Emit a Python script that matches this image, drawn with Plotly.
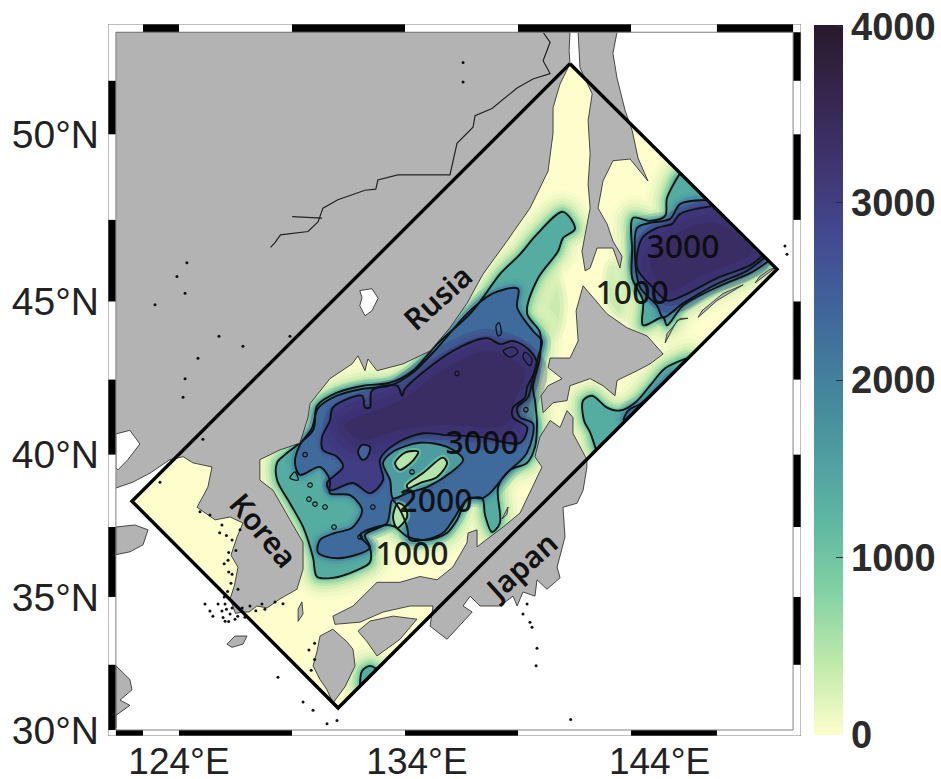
import math
import plotly.graph_objects as go

# ---------- data (lon, lat) ----------
DOMAIN = [(141.30,51.97),(150.46,46.0),(131.04,30.87),(121.92,38.40)]
LON0, LON1, LAT0, LAT1 = 120.86, 151.52, 29.8, 53.04
IN_W, IN_E, IN_S, IN_N = 121.21, 151.17, 30.03, 52.82

CONTINENT = [(141.30,52.82),(141.26,52.33),(141.30,51.97),(140.86,51.41),(140.55,50.75),(140.55,50.03),(140.33,48.94),
(139.53,47.85),(138.51,46.86),(137.45,45.85),(136.74,44.94),(135.99,44.17),(135.11,43.43),(133.91,43.01),(132.76,42.79),
(132.36,43.17),(132.23,42.79),(131.92,43.27),(131.66,43.01),(130.68,42.53),(129.80,41.71),(129.71,41.25),(129.35,40.39),
(128.47,40.16),(127.58,39.83),(127.58,39.13),(128.16,38.78),(128.91,37.74),(129.49,36.95),(129.49,36.0),(129.22,35.28),
(128.47,34.93),(127.9,34.6),(127.45,34.67),(127.1,34.45),(126.83,34.45),(126.5,34.4),(126.26,34.93),(126.45,35.4),(126.61,36.07),(126.3,36.5),(126.57,37.15),(126.83,37.64),(126.26,37.85),
(125.6,37.75),(124.80,38.19),(125.28,38.89),(125.46,39.58),(124.62,39.72),(124.18,39.93),(123.60,39.83),(122.72,39.37),(121.96,39.06),
(121.0,38.8),(121.0,52.82)]
BOHAI = [(121.21,40.70),(121.83,40.82),(122.27,40.36),(121.74,39.83),(121.30,39.48),(121.21,39.55)]
JIANGSU = [(121.21,37.5),(122.05,37.57),(122.63,37.4),(122.41,36.87),(121.83,36.62),(121.21,36.52)]
SHANGHAI = [(121.21,32.46),(121.83,31.95),(121.92,31.56),(121.39,31.17),(121.83,30.97),(121.21,30.59),(121.21,30.1)]
KHANKA = [(132.0,45.34),(132.54,45.40),(132.81,45.1),(132.54,44.71),(132.23,44.55),(132.0,44.87),(132.1,45.12)]
SAKHALIN = [(141.66,52.82),(143.38,52.82),(143.2,52.25),(143.38,51.58),(143.74,50.67),(144.05,50.11),(144.31,49.32),(144.75,48.65),
(143.96,49.29),(143.2,49.24),(142.76,48.65),(142.54,47.85),(142.94,47.38),(143.2,46.86),(143.6,46.4),(143.51,46.04),(143.2,46.65),
(142.5,46.65),(142.19,46.04),(141.97,45.95),(141.83,46.55),(142.19,47.85),(142.1,48.56),(142.19,49.44),(142.1,50.39),(142.28,51.14),(141.74,51.86)]
HOKKAIDO = [(141.88,45.49),(142.32,45.12),(142.94,44.61),(143.82,44.17),(144.71,43.91),(145.42,43.33),(144.84,43.01),(144.27,42.79),
(143.38,42.47),(143.29,41.97),(142.76,42.3),(142.19,42.53),(141.3,42.3),(141.17,41.81),(140.55,41.74),(140.11,41.41),(140.02,41.97),
(140.33,42.3),(140.95,42.53),(140.33,42.89),(140.42,43.2),(141.3,43.2),(141.66,43.75),(141.57,44.71)]
HONSHU = [(140.42,41.15),(140.86,40.92),(141.17,41.48),(141.43,41.25),(141.43,40.72),(142.05,39.83),(142.05,39.58),(141.88,38.78),
(141.61,38.33),(140.99,38.19),(141.08,37.15),(140.73,36.08),(140.86,35.69),(140.28,35.28),(139.84,35.62),(139.75,35.03),(139.22,35.18),
(138.96,34.67),(138.78,35.03),(138.2,34.67),(137.32,34.67),(136.88,35.03),(136.57,34.67),(136.97,34.45),(135.86,33.45),(135.11,33.93),
(135.24,34.67),(134.22,34.67),(133.03,34.45),(132.01,34.08),(130.9,34.0),(130.81,34.3),(131.7,34.67),(132.76,35.53),(133.78,35.53),
(134.66,35.74),(135.42,35.62),(136.12,36.08),(136.74,36.94),(136.79,37.29),(137.19,37.4),(137.19,36.8),(138.34,37.5),(139.09,37.99),
(140.06,39.58),(139.75,39.93),(139.97,40.6)]
SHIKOKU = [(131.92,33.75),(132.45,34.12),(133.47,34.3),(134.53,34.19),(133.78,33.45),(133.2,33.08),(132.76,32.83),(132.32,33.36)]
KYUSHU = [(130.24,33.57),(130.81,33.82),(131.43,33.36),(131.7,33.08),(131.79,32.46),(131.35,31.68),(130.81,31.05),(130.55,31.56),
(130.24,31.95),(129.93,32.46),(130.11,33.01)]
JEJU = [(126.12,33.27),(126.48,33.57),(127.01,33.57),(126.83,33.27),(126.35,33.15)]
TSUSHIMA = [(129.27,34.56),(129.44,34.82),(129.49,34.38),(129.27,34.11)]
KURIL_A = [(148.96,45.52),(147.81,45.03),(146.97,44.5),(147.14,44.71),(148.07,45.25)]
KURIL_B = [(146.52,44.47),(146.04,44.41),(145.51,43.69),(145.59,43.98),(146.17,44.47)]
KURIL_C = [(150.37,46.04),(149.49,45.58),(149.71,45.79),(150.15,46.0)]
SADO = [(138.29,37.78),(138.56,38.2),(138.51,37.94)]

AMUR_A = [(128.05,46.67),(128.23,46.8),(128.49,47.05),(129.71,47.15),(130.15,47.44),(130.37,47.85),(131.03,48.1),
(132.23,48.38),(132.71,48.41),(132.8,48.68),(133.68,48.83),(135.99,48.83),(136.3,49.74),(136.66,49.98),(137.01,50.2),(137.1,50.53),
(137.85,50.73),(138.96,51.3),(139.66,51.55),(140.42,51.7),(140.11,52.05),(140.42,52.55),(140.11,52.82)]
AMUR_B = [(129.01,47.6),(130.33,47.55)]

C1000_MAIN = [(140.99,47.74),(141.52,47.23),(140.99,46.95),(140.77,46.55),(139.89,45.73),(139.40,44.63),(139.97,44.03),(139.97,43.23),
(139.66,42.24),(139.75,41.81),(139.84,41.05),(139.75,40.26),(139.4,39.72),(138.65,39.48),(138.12,38.89),(138.2,37.64),(137.85,37.32),
(137.54,37.92),(137.41,38.5),(136.74,38.44),(136.30,37.74),(135.86,37.29),(134.97,37.04),(134.13,37.15),(133.56,37.5),(133.2,37.57),
(132.01,37.22),(132.45,36.76),(132.45,36.25),(131.88,35.97),(130.81,35.69),(130.11,35.73),(129.93,36.43),(129.49,37.5),(128.91,38.33),
(128.34,39.13),(128.34,39.72),(128.69,40.0),(129.93,40.82),(130.11,41.64),(130.99,42.07),(132.14,42.3),(133.34,42.4),(134.35,42.79),
(135.42,43.65),(136.88,44.61),(137.45,45.12),(138.2,45.85),(139.09,46.46),(139.84,47.07)]
C2000_MAIN = [(129.13,39.72),(129.35,39.31),(130.24,39.58),(130.68,39.13),(130.68,38.68),(131.57,38.61),(132.10,38.09),(131.66,37.47),
(130.90,37.29),(130.24,37.04),(130.15,36.6),(130.99,36.39),(132.45,36.76),(132.23,37.22),(133.2,37.64),(133.43,38.44),(133.78,38.09),
(134.09,37.5),(134.22,37.04),(134.8,37.04),(135.68,37.29),(136.12,37.74),(136.79,38.5),(137.41,38.5),(137.76,38.68),(138.51,39.37),
(139.4,40.07),(139.66,41.05),(139.09,41.25),(138.96,41.58),(139.44,41.91),(139.66,42.57),(139.89,43.23),(140.06,43.75),(139.66,44.07),
(138.96,44.81),(139.0,45.4),(137.89,45.25),(136.74,44.61),(135.42,43.52),(134.35,42.73),(133.34,42.3),(132.14,42.2),(130.99,41.97),
(130.15,41.55),(129.88,40.89),(129.35,40.33)]
C3000_MAIN = [(130.33,40.59),(130.68,41.15),(130.81,41.58),(132.10,41.97),(132.23,41.58),(132.45,41.58),(132.54,42.14),(133.65,42.3),
(133.87,41.97),(134.0,42.2),(136.12,43.43),(137.63,43.84),(138.2,43.65),(138.78,43.75),(139.44,43.5),(139.84,43.01),(139.4,42.24),
(139.31,41.91),(138.78,41.58),(138.78,41.25),(139.4,40.92),(139.09,40.4),(137.32,40.6),(135.86,40.66),(134.8,40.72),(133.65,40.4),
(132.89,39.83),(133.03,39.13),(132.45,38.68),(131.7,39.03),(130.68,38.78),(130.55,39.03),(131.26,39.58),(130.99,39.93),(130.37,40.16)]
DEEP_MAIN = [(131.35,41.0),(133.78,41.81),(135.99,42.95),(137.76,43.43),(139.31,42.8),(138.87,41.81),(138.43,41.0),(135.55,41.0),(133.78,40.82),(132.01,40.49)]
YAMATO_RISE = [(133.34,39.13),(133.03,39.72),(133.47,40.1),(134.66,40.4),(135.86,40.26),(136.57,39.83),(135.99,39.37),(134.97,38.89),(134.09,38.68),(133.47,38.5)]
RISE_A = [(133.65,39.55),(133.56,39.72),(134.0,40.07),(134.58,40.1),(134.31,39.76),(133.78,39.48)]
RISE_B = [(134.09,38.96),(134.8,39.37),(135.68,39.9),(135.86,39.72),(135.42,39.24),(134.66,39.03),(134.13,38.85)]
RISE_C = [(133.47,37.85),(133.69,38.33),(134.0,38.19),(134.09,37.85),(133.65,37.47)]
POCKET = [(132.1,40.33),(132.45,40.26),(132.32,39.9),(132.1,39.83),(131.92,40.1)]
C1000_KURIL = [(146.17,48.88),(145.59,48.15),(145.51,47.62),(144.84,47.47),(144.09,47.56),(144.05,46.55),(144.05,45.73),(144.53,45.03),
(144.53,44.25),(145.42,44.5),(145.59,44.25),(146.3,44.87),(147.94,45.49),(149.27,45.88),(150.06,46.24)]
C2000_KURIL = [(147.36,48.09),(146.17,47.97),(145.73,47.53),(144.84,47.41),(144.27,47.26),(144.18,46.34),(144.4,45.44),(145.15,44.87),
(145.42,44.5),(146.3,44.94),(147.81,45.55),(149.13,45.95),(149.93,46.37)]
C3000_KURIL = [(147.59,47.91),(146.17,47.68),(145.82,47.38),(145.15,47.26),(144.49,46.95),(144.27,46.04),(144.97,45.43),(145.59,45.03),
(146.3,45.18),(147.81,45.73),(149.27,46.12),(149.84,46.43)]
DEEP_KURIL = [(145.73,46.98),(147.72,47.41),(149.36,46.55),(147.05,45.79),(145.73,45.33),(144.84,46.19)]
C1000_EAST = [(142.45,40.17),(142.19,40.75),(141.92,41.15),(141.88,41.81),(142.28,41.97),(142.94,41.58),(143.51,41.48),(144.18,41.74),(144.84,42.3),(145.51,42.87),(146.61,43.23)]
C2000_EAST = [(143.65,41.15),(143.87,41.48),(144.4,41.7),(145.06,42.1),(145.82,42.69)]
C1000_KYUSHU = [(132.01,31.72),(132.1,32.27),(132.45,32.46),(132.72,32.35)]
SHELF_GREEN = [[(139.3,45.1),(140.4,46.0),(140.85,45.0),(140.6,44.0),(140.1,43.9)],
               [(143.2,46.1),(143.7,45.9),(143.6,44.6),(143.1,45.0)]]
LOOPS = [[(138.16,44.33),(138.25,43.97),(138.12,43.91),(138.03,44.23)],
         [(138.34,43.43),(138.78,43.55),(139.0,43.39),(138.65,43.23)],
         [(139.31,43.39),(139.62,43.17),(139.53,42.95),(139.22,43.23)],
         [(128.91,39.2),(129.13,39.41),(129.27,39.13)]]
SEAMOUNTS = [(129.58,40.0),(129.8,38.96),(129.75,38.47),(130.02,38.3),(130.46,38.2),(130.86,37.5),(132.01,37.15),(132.58,38.2),(136.3,42.7),(139.35,41.51),(134.31,39.41)]
SMALL_ISLANDS = [(124.35,46.2),(123.91,45.78),(124.27,45.26),(122.94,44.9),(125.77,43.9),(126.83,43.58),(124.84,43.19),(124.27,42.53),(128.91,43.9),
(124.18,41.92),(125.06,40.52),(123.16,39.06),(126.04,34.74),(126.26,34.38),(126.48,34.19),(125.9,34.49),(125.73,34.74),(126.7,34.56),(126.92,34.26),
(126.04,34.11),(125.37,34.49),(125.15,34.74),(126.61,35.28),(126.35,35.82),(126.17,36.32),(126.52,36.67),(126.35,37.04),(125.9,37.57),(125.37,37.92),
(124.93,38.03),(126.7,37.4),(127.14,34.67),(127.67,34.74),(128.25,34.82),(129.49,31.1),(129.93,30.79),(130.55,30.27),(130.99,30.39),(128.38,32.03),
(139.4,34.74),(139.22,34.38),(139.53,34.08),(139.62,33.89),(139.84,33.12),(139.8,32.46),(141.33,30.43),(150.81,46.71),(150.9,46.46),(136.57,52.0),(136.57,51.47),
(126.0,35.0),(126.15,35.2),(126.3,35.5),(126.2,35.9),(126.0,36.2),(126.2,36.6),(126.1,37.2),(125.8,37.3),(126.35,34.6),(126.6,34.3),(126.1,34.55),(125.95,34.25),(126.2,34.1),
(125.5,34.3),(126.8,34.6),(127.4,34.5),(127.8,34.55),(128.6,34.75),(130.0,33.3),(129.75,33.05),(130.0,32.7),(129.85,32.3)]

CONTOUR_LABELS = ["3000","1000","3000","2000","1000"]
LABEL_VALUES = [3000,1000,3000,2000,1000]
LABEL_LON = [146.3,144.05,137.41,135.37,134.31]
LABEL_LAT = [46.6,45.16,40.3,38.29,36.43]
PLACE_NAMES = ["Rusia","Korea","Japan"]
PLACE_LON = [135.42,127.72,139.09]
PLACE_LAT = [45.12,37.4,36.1]
PLACE_ANGLE = [-42,50,-42]

XTICK_POS = [124,134.53,145.26]
XTICK_TEXT = ["124°E","134°E","144°E"]
YTICK_LAT = [30,35,40,45,50]
YTICK_TEXT = ["30°N","35°N","40°N","45°N","50°N"]
CB_TICKS = [0,1000,2000,3000,3990]
CB_TEXT = ["0","1000","2000","3000","4000"]

TOP_BLACK = [(122.41,124),(129,134),(139,144),(147.8,151.17)]
BOTTOM_BLACK = [(121.21,122.41),(124,129),(134,139),(144,147.8)]
LEFT_BLACK = [(50,51.5),(45,47.5),(40,42.5),(35,37.5),(30.03,32.5)]
RIGHT_BLACK = [(51.5,52.82),(47.5,50),(42.5,45),(37.5,40),(32.5,35)]

DEEP_SCALE = [[0,'#fdfecc'],[.1,'#c0e9ab'],[.2,'#83d2a4'],[.3,'#5eb7a2'],[.4,'#4d9ca0'],[.5,'#43819c'],[.6,'#40659a'],[.7,'#434a92'],[.8,'#403570'],[.9,'#35264f'],[1,'#281a2c']]
GREY = '#b3b3b3'

def merc(lat):
    return math.degrees(math.log(math.tan(math.pi/4 + math.radians(lat)/2)))

def xy(poly, close=True):
    pts = list(poly) + ([poly[0]] if close else [])
    return [p[0] for p in pts], [merc(p[1]) for p in pts]

fig = go.Figure()
SPL = dict(shape='spline', smoothing=0.9)

def fill(poly, color):
    x, y = xy(poly)
    fig.add_trace(go.Scatter(x=x, y=y, mode='lines', fill='toself', fillcolor=color, line=dict(width=0, color=color, **SPL), hoverinfo='skip', showlegend=False))

def halo(poly, bands):
    x, y = xy(poly)
    for w, c in bands:
        fig.add_trace(go.Scatter(x=x, y=y, mode='lines', line=dict(width=w, color=c, **SPL), hoverinfo='skip', showlegend=False))

def outline(poly, width=1.9, color='#0c1414', close=True, smooth=True):
    x, y = xy(poly, close)
    ln = dict(width=width, color=color)
    if smooth:
        ln.update(SPL)
    fig.add_trace(go.Scatter(x=x, y=y, mode='lines', line=ln, hoverinfo='skip', showlegend=False))

def land(poly, color=GREY):
    x, y = xy(poly)
    fig.add_trace(go.Scatter(x=x, y=y, mode='lines', fill='toself', fillcolor=color, line=dict(width=0.8, color='#222'), hoverinfo='skip', showlegend=False))

x, y = xy(DOMAIN)
fig.add_trace(go.Scatter(x=x, y=y, mode='lines', fill='toself', fillcolor='#fdfecc', line=dict(width=0), hoverinfo='skip', showlegend=False))

H1000 = [(44,'rgba(235,247,195,0.3)'),(36,'rgba(225,243,190,0.3)'),(28,'rgba(205,236,178,0.35)'),(21,'rgba(185,229,170,0.4)'),(15,'rgba(160,220,165,0.45)'),(10,'rgba(130,208,163,0.55)'),(5,'rgba(105,195,160,0.7)')]
H2000 = [(18,'rgba(80,160,160,0.25)'),(12,'rgba(75,145,160,0.35)'),(7,'rgba(68,125,160,0.55)')]
H3000 = [(10,'rgba(66,90,150,0.35)'),(5,'rgba(66,80,145,0.6)')]
HDEEP = [(44,'rgba(60,48,110,0.25)'),(30,'rgba(60,48,110,0.3)'),(16,'rgba(58,47,106,0.45)')]
for p in SHELF_GREEN:
    halo(p, [(16,'rgba(205,236,178,0.35)'),(8,'rgba(190,230,172,0.45)')])
    fill(p, '#c9ebb0')
for p in (C1000_MAIN, C1000_KURIL, C1000_EAST, C1000_KYUSHU):
    halo(p, H1000)
for p in (C1000_MAIN, C1000_KURIL, C1000_EAST, C1000_KYUSHU):
    fill(p, '#55ada2')
for p in (C2000_MAIN, C2000_KURIL, C2000_EAST):
    halo(p, H2000)
for p in (C2000_MAIN, C2000_KURIL, C2000_EAST):
    fill(p, '#3f6a9c')
for p in (C3000_MAIN, C3000_KURIL):
    halo(p, H3000)
for p in (C3000_MAIN, C3000_KURIL):
    fill(p, '#413d84')
for p in (DEEP_MAIN, DEEP_KURIL):
    halo(p, HDEEP)
    fill(p, '#3a2d64')
fill(POCKET, '#42609a')
halo(YAMATO_RISE, [(8,'rgba(64,100,155,0.6)')])
fill(YAMATO_RISE, '#4f9ca0')
for p in (RISE_A, RISE_B, RISE_C):
    halo(p, [(6,'rgba(110,200,160,0.7)')])
    fill(p, '#b5e5aa')

# black contour lines
for p in (C1000_MAIN, C2000_MAIN, C3000_MAIN, POCKET, YAMATO_RISE, RISE_A, RISE_B, RISE_C):
    outline(p)
for p in (C1000_KURIL, C2000_KURIL, C3000_KURIL, C1000_EAST, C2000_EAST, C1000_KYUSHU):
    outline(p, close=False)
for p in LOOPS:
    outline(p, width=1.3)
mx, my = xy(SEAMOUNTS, close=False)
fig.add_trace(go.Scatter(x=mx, y=my, mode='markers', marker=dict(size=4.5, color='rgba(0,0,0,0)', line=dict(width=1.2, color='#111')), hoverinfo='skip', showlegend=False))

# everything outside the model domain is open water
d = DOMAIN
frame = [(LON0,LAT1),(LON1,LAT1),(LON1,LAT0),(LON0,LAT0),(LON0,LAT1),d[3],d[2],d[1],d[0],d[3]]
x, y = xy(frame, close=False)
fig.add_trace(go.Scatter(x=x, y=y, mode='lines', fill='toself', fillcolor='white', line=dict(width=0, color='white'), hoverinfo='skip', showlegend=False))

for p in (CONTINENT, SAKHALIN, HOKKAIDO, HONSHU, SHIKOKU, KYUSHU, JEJU, TSUSHIMA, KURIL_A, KURIL_B, KURIL_C, SADO, JIANGSU, SHANGHAI):
    land(p)
land(BOHAI, 'white')
land(KHANKA, 'white')
for r, w in ((AMUR_A,1.2),(AMUR_B,1.2)):
    outline(r, width=w, color='#222', close=False, smooth=False)
sx, sy = xy(SMALL_ISLANDS, close=False)
fig.add_trace(go.Scatter(x=sx, y=sy, mode='markers', marker=dict(size=3, color='#111'), hoverinfo='skip', showlegend=False))

outline(DOMAIN, width=3.4, color='#000', smooth=False)

fig.add_trace(go.Scatter(
    x=LABEL_LON, y=[merc(v) for v in LABEL_LAT], mode='markers+text', text=CONTOUR_LABELS, textposition='middle center',
    textfont=dict(family='Noto Sans', size=32, color='rgba(10,10,10,0.92)', weight=500),
    marker=dict(size=1, opacity=0, color=LABEL_VALUES, cmin=0, cmax=4000, colorscale=DEEP_SCALE, showscale=True,
        colorbar=dict(x=1.0188, xanchor='left', y=0.5, yanchor='middle', len=710, lenmode='pixels', thickness=29, thicknessmode='pixels',
            tickvals=CB_TICKS, ticktext=CB_TEXT, ticks='inside', ticklen=7, tickcolor='#2a2a4a', outlinewidth=0, xpad=0, ypad=0, ticklabeloverflow='allow',
            tickfont=dict(family='Liberation Sans', size=38, color='#2b2b2b', weight='bold'))),
    hoverinfo='skip', showlegend=False))

for name, lo, la, ang in zip(PLACE_NAMES, PLACE_LON, PLACE_LAT, PLACE_ANGLE):
    fig.add_annotation(x=lo, y=merc(la), text=name, textangle=ang, showarrow=False,
        font=dict(family='Noto Sans', size=30, color='#111', weight=600))

# fancy frame
shapes = []
def rect(x0, x1, y0, y1, color='black'):
    shapes.append(dict(type='rect', xref='x', yref='y', x0=x0, x1=x1, y0=y0, y1=y1, fillcolor=color, line=dict(width=0), layer='above'))
my0, my1, mi0, mi1 = merc(LAT0), merc(LAT1), merc(IN_S), merc(IN_N)
rect(LON0, LON1, mi1, my1, 'white'); rect(LON0, LON1, my0, mi0, 'white')
rect(LON0, IN_W, my0, my1, 'white'); rect(IN_E, LON1, my0, my1, 'white')
for a, b in TOP_BLACK: rect(a, b, mi1, my1)
for a, b in BOTTOM_BLACK: rect(a, b, my0, mi0)
for a, b in LEFT_BLACK: rect(LON0, IN_W, merc(a), merc(b))
for a, b in RIGHT_BLACK: rect(IN_E, LON1, merc(a), merc(b))
shapes.append(dict(type='rect', xref='x', yref='y', x0=LON0, x1=LON1, y0=my0, y1=my1, line=dict(width=1, color='#808080'), layer='above'))
shapes.append(dict(type='rect', xref='x', yref='y', x0=IN_W, x1=IN_E, y0=mi0, y1=mi1, line=dict(width=1, color='#808080'), layer='above'))

fig.update_layout(
    width=941, height=779, margin=dict(l=108, r=140, t=24, b=43, autoexpand=False), paper_bgcolor='white', plot_bgcolor='white', shapes=shapes,
    font=dict(family='Liberation Sans'),
    xaxis=dict(range=[LON0, LON1], tickvals=XTICK_POS, ticktext=XTICK_TEXT, showgrid=False, zeroline=False, ticks='', ticklabelstandoff=0, automargin=False,
               tickfont=dict(size=37, color='#222')),
    yaxis=dict(range=[my0, my1], tickvals=[merc(v) for v in YTICK_LAT], ticktext=YTICK_TEXT, showgrid=False, zeroline=False, ticks='', ticklabelstandoff=8, automargin=False,
               tickfont=dict(size=39, color='#222')),
)
fig.write_html("out.html", config={'displayModeBar': False}, post_script="document.body.style.margin='0';document.documentElement.style.overflow='hidden';")
